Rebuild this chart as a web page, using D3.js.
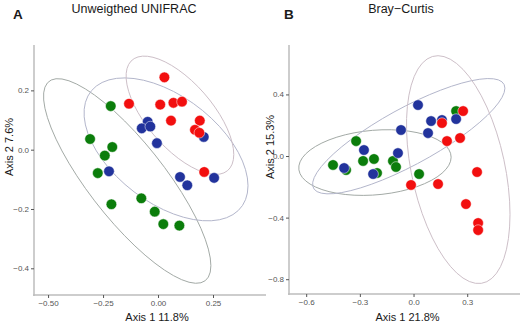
<!DOCTYPE html>
<html>
<head>
<meta charset="utf-8">
<script src="https://cdn.jsdelivr.net/npm/d3@7"></script>
<style>
  body { margin: 0; background: #fff; }
  svg { font-family: "Liberation Sans", Arial, sans-serif; }
</style>
</head>
<body>
<div id="chart"></div>
<script>

// ordination scores, one [axis1, axis2] pair per sample
const unifracGreen = [[-0.215, 0.147], [-0.309, 0.036], [-0.208, 0.009], [-0.242, -0.020], [-0.274, -0.079],
                      [-0.212, -0.184], [-0.076, -0.164], [-0.015, -0.209], [0.024, -0.251], [0.097, -0.256]];
const unifracBlue  = [[-0.047, 0.094], [-0.074, 0.072], [-0.035, 0.078], [-0.005, 0.022], [0.208, 0.043],
                      [-0.223, -0.073], [0.100, -0.092], [0.133, -0.120], [0.255, -0.095]];
const unifracRed   = [[0.029, 0.244], [-0.132, 0.155], [0.010, 0.152], [0.070, 0.158], [0.109, 0.162],
                      [0.059, 0.098], [0.190, 0.098], [0.168, 0.067], [0.188, 0.057], [0.210, -0.075]];

const brayGreen = [[0.238, 0.292], [-0.321, 0.097], [-0.282, -0.032], [-0.221, -0.019], [-0.115, -0.032],
                   [-0.098, -0.071], [-0.450, -0.058], [-0.377, -0.091], [-0.204, -0.110], [0.031, -0.117]];
const brayBlue  = [[0.025, 0.331], [0.098, 0.227], [0.159, 0.234], [0.238, 0.240], [-0.070, 0.169],
                   [0.081, 0.149], [-0.277, 0.039], [-0.087, 0.019], [-0.388, -0.078], [-0.226, -0.117]];
const brayRed   = [[0.277, 0.292], [0.159, 0.214], [0.187, 0.097], [0.260, 0.117], [0.355, -0.104],
                   [-0.014, -0.188], [0.137, -0.182], [0.293, -0.312], [0.361, -0.435], [0.361, -0.481]];

const unifracXTicks = [-0.50, -0.25, 0.00, 0.25];
const unifracYTicks = [-0.4, -0.2, 0.0, 0.2];
const brayXTicks = [-0.6, -0.3, 0.0, 0.3];
const brayYTicks = [-0.8, -0.4, 0.0, 0.4];

const groupColors   = ["#0b7d0b", "#22339c", "#f20f0f"];
const ellipseColors = ["#a3aaa6", "#b3b6cb", "#cdbfc8"];

// robust t-scale estimate (same iteration as MASS::cov.trob, nu = 5)
function covTrob(pts, nu = 5, maxit = 25, tol = 0.01) {
    let n = pts.length;
    let w = pts.map(() => 1);
    let loc = [d3.mean(pts, d => d[0]), d3.mean(pts, d => d[1])];
    let X = [];
    for (let it = 0; it < maxit; it++) {
        let w0 = w.slice();
        X = pts.map(d => [d[0] - loc[0], d[1] - loc[1]]);
        let sw = d3.sum(w);
        let a = 0, b = 0, c = 0;
        X.forEach((r, i) => { a += w[i] * r[0] * r[0]; b += w[i] * r[0] * r[1]; c += w[i] * r[1] * r[1]; });
        a /= sw; b /= sw; c /= sw;
        let det = a * c - b * b;
        let Q = X.map(r => (c * r[0] * r[0] - 2 * b * r[0] * r[1] + a * r[1] * r[1]) / det);
        w = Q.map(q => (nu + 2) / (nu + q));
        let sw2 = d3.sum(w);
        loc = [d3.sum(pts, (d, i) => w[i] * d[0]) / sw2, d3.sum(pts, (d, i) => w[i] * d[1]) / sw2];
        if (w.every((v, i) => Math.abs(v - w0[i]) < tol)) break;
    }
    let a = 0, b = 0, c = 0;
    X.forEach((r, i) => { a += w[i] * r[0] * r[0]; b += w[i] * r[0] * r[1]; c += w[i] * r[1] * r[1]; });
    return { center: loc, cov: [a / n, b / n, c / n] };
}

// 95% ellipse like stat_ellipse(type = "t")
function ellipsePoints(pts, level = 0.95, segments = 51) {
    let est = covTrob(pts);
    let [a, b, c] = est.cov;
    let dfd = pts.length - 1;
    let qf = dfd / 2 * (Math.pow(1 - level, -2 / dfd) - 1);  // F(2, dfd) quantile
    let radius = Math.sqrt(2 * qf);
    let r11 = Math.sqrt(a), r12 = b / r11, r22 = Math.sqrt(c - r12 * r12);
    return d3.range(segments + 1).map(i => {
        let t = i * 2 * Math.PI / segments;
        let ct = Math.cos(t), st = Math.sin(t);
        return [est.center[0] + radius * ct * r11, est.center[1] + radius * (ct * r12 + st * r22)];
    });
}

const fmtMinus = f => (d => f(d).replace("-", "\u2212"));

class OrdinationPlot {

    constructor(svg, opts) {
        this.g = svg.append("g");
        let x = d3.scaleLinear().domain(opts.xDomain).range([opts.left, opts.right]);
        let y = d3.scaleLinear().domain(opts.yDomain).range([opts.bottom, opts.top]);

        // panel letter and title
        this.g.append("text").attr("x", opts.letterX).attr("y", 19)
            .attr("font-size", 13.5).attr("font-weight", "bold").attr("fill", "#1a1a1a")
            .text(opts.letter);
        this.g.append("text").attr("x", opts.titleX).attr("y", 12.5)
            .attr("text-anchor", "middle").attr("font-size", 12.5).attr("fill", "#1a1a1a")
            .text(opts.title);

        // ellipses first, points over them
        let line = d3.line().x(d => x(d[0])).y(d => y(d[1]));
        opts.groups.forEach((pts, i) => {
            this.g.append("path")
                .attr("d", line(ellipsePoints(pts)))
                .attr("fill", "none")
                .attr("stroke", ellipseColors[i])
                .attr("stroke-width", 1);
        });
        opts.groups.forEach((pts, i) => {
            this.g.selectAll(null).data(pts).enter()
                .append("circle")
                .attr("cx", d => x(d[0]))
                .attr("cy", d => y(d[1]))
                .attr("r", 5.3)
                .attr("fill", groupColors[i])
                .attr("stroke", "#fff")
                .attr("stroke-width", 0.5);
        });

        // axes
        let xAxis = this.g.append("g").attr("transform", `translate(0,${opts.bottom})`)
            .call(d3.axisBottom(x).tickValues(opts.xTicks).tickFormat(fmtMinus(d3.format(opts.xFmt)))
                .tickSizeOuter(0).tickSize(3).tickPadding(2));
        let yAxis = this.g.append("g").attr("transform", `translate(${opts.left},0)`)
            .call(d3.axisLeft(y).tickValues(opts.yTicks).tickFormat(fmtMinus(d3.format(".1f")))
                .tickSizeOuter(0).tickSize(3).tickPadding(2));
        [xAxis, yAxis].forEach(ax => {
            ax.select(".domain").attr("stroke", "#bdbdbd").attr("stroke-width", 1.5);
            ax.selectAll(".tick line").attr("stroke", "#555");
            ax.selectAll(".tick text").attr("fill", "#555").attr("font-size", 8)
                .attr("font-family", "Liberation Sans, Arial, sans-serif");
        });
        // y domain line spans the full panel height
        yAxis.select(".domain").attr("d", `M0,${opts.top}V${opts.bottom + 1}`);
        xAxis.select(".domain").attr("d", `M${opts.left - 1},0H${opts.right}`);

        // axis titles
        this.g.append("text").attr("x", (opts.left + opts.right) / 2 + opts.xTitleShift).attr("y", 321)
            .attr("text-anchor", "middle").attr("font-size", 11).attr("fill", "#1a1a1a")
            .text(opts.xTitle);
        this.g.append("text")
            .attr("transform", `translate(${opts.yTitleX},147) rotate(-90)`)
            .attr("text-anchor", "middle").attr("font-size", 11).attr("fill", "#1a1a1a")
            .text(opts.yTitle);
    }
}

let svg = d3.select("#chart").append("svg")
    .attr("width", 531).attr("height", 331);

new OrdinationPlot(svg, {
    letter: "A", letterX: 13, title: "Unweigthed UNIFRAC", titleX: 134,
    groups: [unifracGreen, unifracBlue, unifracRed],
    xDomain: [-0.564, 0.491], yDomain: [-0.490, 0.353],
    left: 34, right: 266, top: 45, bottom: 295,
    xTicks: unifracXTicks, yTicks: unifracYTicks, xFmt: ".2f",
    xTitle: "Axis 1  11.8%", xTitleShift: 7, yTitle: "Axis 2  7.6%", yTitleX: 13
});

new OrdinationPlot(svg, {
    letter: "B", letterX: 284, title: "Bray\u2212Curtis", titleX: 401,
    groups: [brayGreen, brayBlue, brayRed],
    xDomain: [-0.696, 0.595], yDomain: [-0.896, 0.721],
    left: 289, right: 520, top: 45, bottom: 294,
    xTicks: brayXTicks, yTicks: brayYTicks, xFmt: ".1f",
    xTitle: "Axis 1  21.8%", xTitleShift: 3, yTitle: "Axis 2  15.3%", yTitleX: 274
});

</script>
</body>
</html>
